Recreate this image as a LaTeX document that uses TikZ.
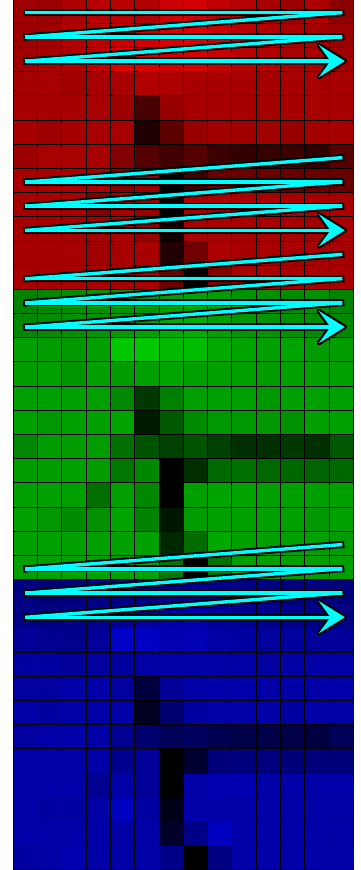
\documentclass[tikz,border=0pt]{standalone}
\usepackage{xcolor}
\definecolor{scancy}{RGB}{0,255,255}
\begin{document}
\begin{tikzpicture}[x=1pt,y=-1pt,
  cellbox/.style={draw=black, line width=0.9pt},
  scanblack/.style={draw=black, line width=7.2pt, line cap=rect},
  scancyan/.style={draw=scancy, line width=3.4pt, line cap=rect},
  headblack/.style={fill=black, draw=black, line width=4.4pt, line join=round},
  headcyan/.style={fill=scancy}]
\useasboundingbox (0,0) rectangle (361,870);
\fill[white] (0,0) rectangle (361,870);
\def\gx{13.3}\def\gy{-0.8}\def\cw{24.29}\def\ch{24.18}
% red channel
\foreach \r/\vals in {
0/{160,153,170,184,187,176,204,210,192,180,168,158,174,140},
1/{156,160,176,184,196,204,216,224,200,184,176,168,164,154},
2/{160,168,176,192,224,220,212,216,200,184,176,168,168,160},
3/{164,168,160,168,168,176,172,168,168,168,164,168,168,168},
4/{168,168,168,168,156,72,152,168,168,168,164,168,168,168},
5/{168,156,168,168,168,32,92,152,160,160,160,152,164,168},
6/{156,168,168,168,132,84,64,84,60,52,52,60,48,88},
7/{168,168,168,168,128,152,0,60,108,108,108,104,104,104},
8/{168,168,168,128,168,152,0,168,168,168,168,168,168,168},
9/{168,168,164,164,172,148,16,168,168,168,168,168,160,168},
10/{168,168,168,160,168,168,32,112,172,168,168,168,168,164},
11/{168,168,168,168,168,168,108,0,128,168,168,168,168,168}} {
  \foreach \v [count=\c from 0] in \vals {
    \definecolor{cellc}{RGB}{\v,0,0}
    \filldraw[cellbox, fill=cellc] ({\gx+\c*\cw},{\gy+\r*\ch}) rectangle ++(\cw,\ch);
  }
}
% green channel
\foreach \r/\vals in {
12/{132,136,140,144,148,148,156,164,156,148,144,140,144,132},
13/{136,140,144,148,156,164,172,176,160,152,148,144,140,136},
14/{160,156,152,160,200,200,184,188,168,164,160,164,156,156},
15/{156,160,148,160,156,160,164,160,160,160,156,160,160,160},
16/{160,160,160,160,136,56,128,160,160,160,152,160,160,160},
17/{160,152,160,160,164,28,88,140,152,152,152,144,160,160},
18/{136,156,156,156,112,84,64,84,64,48,48,56,48,88},
19/{156,156,160,156,120,136,0,48,104,112,104,104,100,104},
20/{160,160,160,112,160,136,0,160,164,164,160,160,160,160},
21/{160,152,140,144,164,132,24,156,160,160,160,160,152,160},
22/{160,160,160,160,160,160,40,108,168,160,160,160,160,156},
23/{160,160,160,160,160,160,120,0,116,160,160,160,160,160}} {
  \foreach \v [count=\c from 0] in \vals {
    \definecolor{cellc}{RGB}{0,\v,0}
    \filldraw[cellbox, fill=cellc] ({\gx+\c*\cw},{\gy+\r*\ch}) rectangle ++(\cw,\ch);
  }
}
% blue channel
\foreach \r/\vals in {
24/{128,116,124,128,132,128,136,144,136,132,128,124,128,120},
25/{132,128,136,140,148,160,168,172,152,144,140,136,132,128},
26/{152,144,140,152,200,196,176,180,164,160,156,156,152,152},
27/{160,160,152,160,160,164,168,168,164,164,160,164,164,164},
28/{160,160,168,168,160,64,152,168,168,168,168,168,168,168},
29/{168,160,168,168,168,32,112,160,168,168,168,160,168,168},
30/{160,168,168,168,144,112,88,96,80,72,72,72,64,88},
31/{168,168,168,168,144,152,0,48,120,124,124,120,120,120},
32/{168,168,168,144,168,152,0,168,176,176,168,168,168,168},
33/{168,160,160,164,192,160,24,168,168,168,168,168,164,164},
34/{168,168,168,168,168,168,40,136,192,168,168,168,168,164},
35/{160,164,176,168,168,168,136,0,128,168,168,168,168,168}} {
  \foreach \v [count=\c from 0] in \vals {
    \definecolor{cellc}{RGB}{0,0,\v}
    \filldraw[cellbox, fill=cellc] ({\gx+\c*\cw},{\gy+\r*\ch}) rectangle ++(\cw,\ch);
  }
}
% scan path coordinates
\foreach \r in {0,1,2,6,7,8,9,10,11,12,13,22,23,24,25} {
  \coordinate (L\r) at (26.7,{12.7+24.18*\r});
  \coordinate (R\r) at (340.7,{12.7+24.18*\r});
}
\foreach \r in {2,9,13,25} {
  \coordinate (I\r) at (330.5,{12.7+24.18*\r});
  \coordinate (T\r) at (344.8,{12.7+24.18*\r});
  \coordinate (U\r) at (318.6,{12.7+24.18*\r-16.3});
  \coordinate (D\r) at (318.6,{12.7+24.18*\r+16.3});
}
\def\scansegs{L0/R0,R0/L1,L1/R1,R1/L2,L2/I2,R6/L7,L7/R7,R7/L8,L8/R8,R8/L9,L9/I9,R10/L11,L11/R11,R11/L12,L12/R12,R12/L13,L13/I13,R22/L23,L23/R23,R23/L24,L24/R24,R24/L25,L25/I25}
\foreach \a/\b in \scansegs { \draw[scanblack] (\a) -- (\b); }
\foreach \r in {2,9,13,25} { \filldraw[headblack] (T\r) -- (U\r) -- (I\r) -- (D\r) -- cycle; }
\foreach \a/\b in \scansegs { \draw[scancyan] (\a) -- (\b); }
\foreach \r in {2,9,13,25} { \fill[headcyan] (T\r) -- (U\r) -- (I\r) -- (D\r) -- cycle; }
\end{tikzpicture}
\end{document}
